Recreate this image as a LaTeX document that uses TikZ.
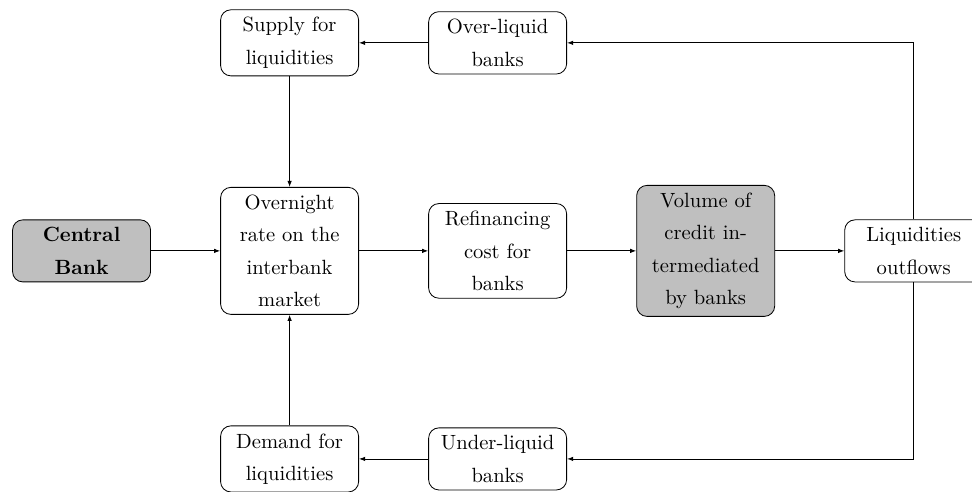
\documentclass[tikz,border=0pt]{standalone}
\usepackage{xcolor}
\usepackage{tikz}
\usetikzlibrary{positioning, shapes, arrows.meta}

\begin{document}
\begin{tikzpicture}[
    node distance=101pt,
    block/.style={rectangle, draw, rounded corners=5pt, align=center, text width=56pt,
        inner xsep=5.5pt, inner ysep=3.7pt, font=\fontsize{10}{15.7}\selectfont},
    shaded/.style={block, fill=lightgray},
    >={Latex[length=3pt, width=2.2pt]}
]

\useasboundingbox (-39.6pt,-117pt) rectangle (432.3pt,121.8pt);

\node[shaded] (cb) at (0,0) {\textbf{Central}\\\textbf{Bank}};
\node[block, right of=cb] (overnight) {Overnight\\rate on the\\interbank\\market};
\node[block, right of=overnight] (refin) {Refinancing\\cost for\\banks};
\node[shaded, right of=refin] (volume) {Volume of\\credit in-\\termediated\\by banks};
\node[block, right of=volume] (outflows) {Liquidities\\outflows};
\node[block, above of=overnight] (supply) {Supply for\\liquidities};
\node[block, above of=refin] (overliq) {Over-liquid\\banks};
\node[block, below of=overnight] (demand) {Demand for\\liquidities};
\node[block, below of=refin] (underliq) {Under-liquid\\banks};

\draw[->] (cb) -- (overnight);
\draw[->] (overnight) -- (refin);
\draw[->] (refin) -- (volume);
\draw[->] (volume) -- (outflows);
\draw[->] (outflows) |- (overliq);
\draw[->] (outflows) |- (underliq);
\draw[->] (overliq) -- (supply);
\draw[->] (supply) -- (overnight);
\draw[->] (underliq) -- (demand);
\draw[->] (demand) -- (overnight);

\end{tikzpicture}
\end{document}
